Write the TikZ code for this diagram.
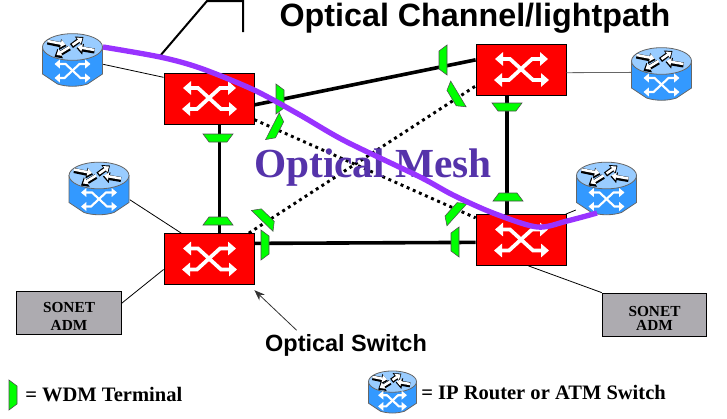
\documentclass[tikz,border=0pt]{standalone}
\usepackage{fontspec}
\setmainfont{Liberation Serif}
\setsansfont{Liberation Sans}
\usetikzlibrary{arrows.meta}
\definecolor{swred}{HTML}{FF0000}
\definecolor{wdmgreen}{HTML}{00FF00}
\definecolor{rtblue}{HTML}{3399FF}
\definecolor{rttop}{HTML}{99CCFF}
\definecolor{admgray}{HTML}{ADABB0}
\definecolor{pathpurple}{HTML}{9933FF}
\definecolor{meshblue}{HTML}{5533AA}
\tikzset{
  swbox/.style={rectangle,draw=black,fill=swred,line width=0.6pt,minimum width=67.5pt,minimum height=38.2pt,inner sep=0pt},
  rtbox/.style={rectangle,minimum width=45.7pt,minimum height=39.7pt,inner sep=0pt},
  admbox/.style={rectangle,draw=black,fill=admgray,line width=0.6pt,minimum width=78.5pt,minimum height=32.2pt,inner sep=0pt,align=center,font=\rmfamily\bfseries\fontsize{11.5}{11.5}\selectfont},
  trunk/.style={black,line width=2.7pt},
  meshlink/.style={black,line width=2.2pt,dash pattern=on 2.2pt off 2.8pt},
  access/.style={black,line width=0.6pt},
  bigsans/.style={font=\sffamily\bfseries\fontsize{24.2}{24.2}\selectfont,inner sep=0pt},
  legend/.style={font=\rmfamily\bfseries\fontsize{15.4}{15.4}\selectfont,inner sep=0pt},
  crossarrow/.style={draw=white,line width=#1,{Triangle[width=10pt,length=6pt]}-{Triangle[width=10pt,length=6pt]}},
  topblack/.style={black,line width=3.8pt,-{Triangle[width=8pt,length=5pt]}},
  topwhite/.style={white,line width=1.9pt,-{Triangle[width=5.5pt,length=3.5pt]}},
  crossicon/.pic={
    \draw[crossarrow=2.8pt] (-27,10.5) -- (-12,10.5) -- (11,-10.5) -- (27,-10.5);
    \draw[crossarrow=2.8pt] (-26,-10.5) -- (-11,-10.5) -- (12,10.5) -- (28,10.5);
  },
  routericon/.pic={
    \draw[draw=black!60,fill=rtblue,line width=0.6pt] (-30,-13) -- (-30,14) -- (-15,24) .. controls (-6,27) and (6,27) .. (15,24) -- (30,14) -- (30,-13) -- cycle;
    \draw[draw=black!60,fill=rttop,line width=0.6pt] (0,-13) ellipse (22.5pt and 10pt);
    \draw[topblack] (-25,-18) -- (-6,-14);
    \draw[topblack] (22,-9) -- (4,-12);
    \draw[topblack] (-3,-12) -- (-18,-3);
    \draw[topblack] (-1,-14) -- (11,-23);
    \draw[topwhite] (-25,-19) -- (-7,-15.5);
    \draw[topwhite] (22,-10) -- (5,-13);
    \draw[topwhite] (-3,-13) -- (-16,-5);
    \draw[topwhite] (0,-15) -- (10,-22);
    \draw[draw=white,line width=1.6pt,{Triangle[width=6.5pt,length=4pt]}-{Triangle[width=6.5pt,length=4pt]}] (-18,18) -- (-8,18) -- (7,4) -- (18,4);
    \draw[draw=white,line width=1.6pt,{Triangle[width=6.5pt,length=4pt]}-{Triangle[width=6.5pt,length=4pt]}] (-18,4) -- (-7,4) -- (8,18) -- (18,18);
  },
  wdmicon/.pic={
    \draw[draw=black!70,fill=wdmgreen,line width=0.4pt] (-15,-4) -- (15,-4) -- (9,4) -- (-9,4) -- cycle;
  }
}
\begin{document}
\begin{tikzpicture}[x=0.75pt,y=-0.75pt]
\useasboundingbox (0,0) rectangle (727,418);

\path
(209,98.5) node [swbox] (swA) {}
(521,69.5) node [swbox] (swB) {}
(209,259) node [swbox] (swC) {}
(521,240) node [swbox] (swD) {}
(72.5,60) node [rtbox] (rtA) {}
(661.5,74) node [rtbox] (rtB) {}
(99,188.5) node [rtbox] (rtC) {}
(606.5,188.5) node [rtbox] (rtD) {}
(69,312.5) node [admbox] (admL) {\rule{0pt}{13pt}SONET\\[2pt]ADM}
(654.5,314.5) node [admbox] (admR) {\rule{0pt}{13pt}SONET\\[-1pt]ADM}
(475,18.5) node [bigsans] (title) {Optical Channel/lightpath}
(346,345.5) node [bigsans,font=\sffamily\bfseries\fontsize{17.6}{17.6}\selectfont] (swlabel) {Optical Switch}
;

% links between the switches
\draw[trunk] (swA.-8) -- (swB.168);
\draw[trunk] (swC.19.6) -- (swD.183.8);
\draw[trunk] (swA.-68.6) -- (swC.68.6);
\draw[trunk] (swB.-118.8) -- (swD.118.8);
\draw[meshlink] (swA.-25) -- (swD.154);
\draw[meshlink] (swC.33.9) -- (swB.200);

% access links
\draw[access] (rtA.-8) -- (swA.155.5);
\draw[access] (rtC.-20) -- (swC.137);
\draw[access,black!60] (swB.-4) -- (rtB.177.6);
\draw[access] (swD.30) -- (rtD.215);
\draw[access] (admL.10.9) -- (swC.193.7);
\draw[access] (swD.-74.6) -- (admR.north west);
\draw[access,black!80,-{Stealth[length=8pt,width=6pt]}] ([xshift=-37pt,yshift=3pt]swlabel.north) -- ([yshift=-4pt]swC.south east);

% line at the top
\coordinate (stubA) at (160,56);
\coordinate (stubB) at (207,1);
\coordinate (stubC) at (243,1);
\coordinate (stubD) at (243,32);
\draw[black,line width=1.5pt] (stubA) -- (stubB) -- (stubC) -- (stubD);

\path (swA) pic {crossicon} (swB) pic {crossicon} (swC) pic {crossicon} (swD) pic {crossicon};
\path (rtA) pic {routericon} (rtB) pic {routericon} (rtC) pic {routericon} (rtD) pic {routericon};

% WDM terminals
\path (218,138) pic {wdmicon};
\path (218,221) pic[rotate=180] {wdmicon};
\path (507,107) pic {wdmicon};
\path (508,197) pic[rotate=180] {wdmicon};
\path (280,99) pic[rotate=90] {wdmicon};
\path (276,128) pic[rotate=63] {wdmicon};
\path (443,60) pic[rotate=-90] {wdmicon};
\path (455,96) pic[rotate=-59] {wdmicon};
\path (265,245) pic[rotate=90] {wdmicon};
\path (265,218) pic[rotate=136] {wdmicon};
\path (455,242) pic[rotate=-90] {wdmicon};
\path (454,212) pic[rotate=-132] {wdmicon};

\node[font=\rmfamily\bfseries\fontsize{31}{31}\selectfont,text=meshblue,inner sep=0pt] (mesh) at (373,168) {Optical Mesh};

\draw[pathpurple,line width=4pt,smooth] plot coordinates {(103,47) (160,57) (200,68) (254,90) (300,115) (345,141) (420,177) (453,195) (493,213) (537,227) (567,221) (597,213)};

% legend
\path (13,395) pic[rotate=90] {wdmicon};
\node[legend,anchor=west] (wdmtext) at (25,395) {= WDM Terminal};
\coordinate (rtlegend) at (392.5,392);
\path (rtlegend) pic[scale=0.8] {routericon};
\node[legend,anchor=west] (rttext) at (421,392) {= IP Router or ATM Switch};
\end{tikzpicture}
\end{document}
